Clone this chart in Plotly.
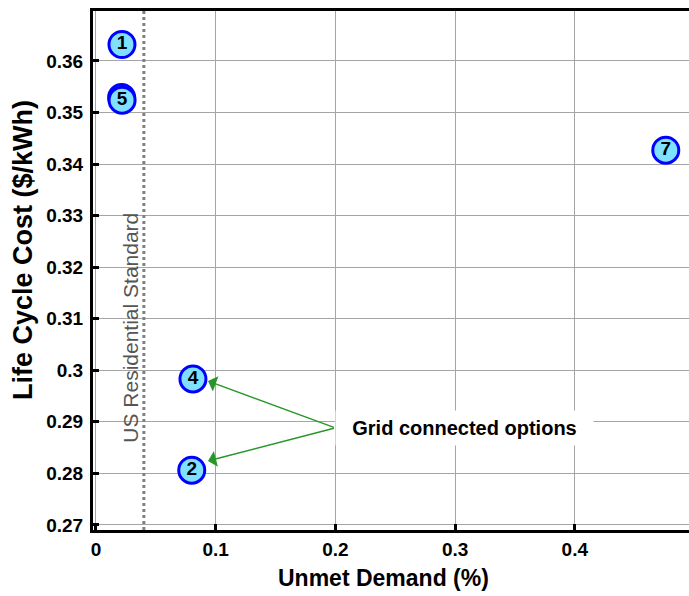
import plotly.graph_objects as go

# Data
labels = ["1", "", "5", "7", "4", "2"]
unmet_demand = [0.0217, 0.0214, 0.0218, 0.476, 0.081, 0.080]
life_cycle_cost = [0.3632, 0.3529, 0.3524, 0.3427, 0.2983, 0.2806]

x_ticks = [0, 0.1, 0.2, 0.3, 0.4]
x_ticktext = ["0", "0.1", "0.2", "0.3", "0.4"]
y_ticks = [0.27, 0.28, 0.29, 0.30, 0.31, 0.32, 0.33, 0.34, 0.35, 0.36]
y_ticktext = ["0.27", "0.28", "0.29", "0.3", "0.31", "0.32", "0.33", "0.34", "0.35", "0.36"]

standard_x = 0.04
standard_label = "US Residential Standard"
grid_label = "Grid connected options"
arrow_tail = (0.2, 0.2888)
arrow_head_x = 0.0936
arrow_head_y = [0.2979, 0.2824]

FONT = "Arial, Liberation Sans, sans-serif"

fig = go.Figure()

# Standard line
fig.add_shape(type="line", xref="x", yref="paper", x0=standard_x, x1=standard_x, y0=0, y1=1,
              line=dict(color="rgb(128,128,128)", width=3, dash="dot"), layer="above")

for lab, xv, yv in zip(labels, unmet_demand, life_cycle_cost):
    fig.add_trace(go.Scatter(
        x=[xv], y=[yv], mode="markers+text" if lab else "markers", text=[lab],
        textposition="middle center",
        textfont=dict(family=FONT, size=19, color="black", weight="bold"),
        marker=dict(size=26, color="rgb(128,224,255)", line=dict(color="rgb(0,0,255)", width=3)),
        showlegend=False, cliponaxis=False,
    ))

annotations = []
# Arrows
for hy in arrow_head_y:
    annotations.append(dict(
        x=arrow_head_x, y=hy, xref="x", yref="y",
        ax=arrow_tail[0], ay=arrow_tail[1], axref="x", ayref="y",
        text="", showarrow=True, arrowhead=1, arrowsize=1.8, arrowwidth=1.5,
        arrowcolor="rgb(40,150,40)", standoff=0,
    ))
# Grid label
annotations.append(dict(
    x=0.3079, y=arrow_tail[1], xref="x", yref="y", text=grid_label, showarrow=False,
    font=dict(family=FONT, size=20, color="black", weight="bold"),
    bgcolor="white", width=245, borderpad=6, xanchor="center", yanchor="middle",
))
# Standard label
annotations.append(dict(
    x=0.029, y=0.3082, xref="x", yref="y", text=standard_label, showarrow=False,
    textangle=-90, font=dict(family=FONT, size=21, color="rgb(85,85,85)"),
    xanchor="center", yanchor="middle",
))
# Axis titles
annotations.append(dict(
    x=0, y=0.5395, xref="paper", yref="paper", xshift=-70, text="Life Cycle Cost ($/kWh)",
    showarrow=False, textangle=-90, font=dict(family=FONT, size=27, color="black", weight="bold"),
    xanchor="center", yanchor="middle",
))
annotations.append(dict(
    x=0.488, y=0, xref="paper", yref="paper", yshift=-48, text="Unmet Demand (%)",
    showarrow=False, font=dict(family=FONT, size=23, color="black", weight="bold"),
    xanchor="center", yanchor="middle",
))

fig.update_layout(
    width=689, height=596,
    margin=dict(l=93, r=0, t=11, b=66),
    paper_bgcolor="white", plot_bgcolor="white",
    annotations=annotations,
    xaxis=dict(
        range=[-0.0025, 0.4954], tickvals=x_ticks, ticktext=x_ticktext,
        showgrid=True, gridcolor="rgb(165,165,165)", gridwidth=1, zeroline=False,
        showline=True, linecolor="black", linewidth=3, mirror=True,
        ticks="inside", ticklen=6, tickwidth=3, tickcolor="black",
        tickfont=dict(family=FONT, size=19, color="black", weight="bold"),
    ),
    yaxis=dict(
        range=[0.269, 0.3697], tickvals=y_ticks, ticktext=y_ticktext,
        showgrid=True, gridcolor="rgb(165,165,165)", gridwidth=1, zeroline=False,
        showline=True, linecolor="black", linewidth=3, mirror=False,
        ticks="inside", ticklen=6, tickwidth=3, tickcolor="black",
        ticklabelstandoff=3,
        tickfont=dict(family=FONT, size=19, color="black", weight="bold"),
    ),
)

fig.write_html("out.html")
